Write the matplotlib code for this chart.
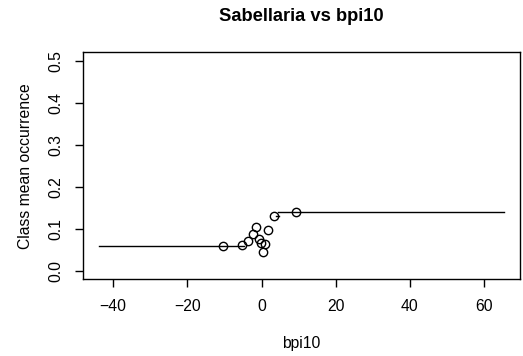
import matplotlib
matplotlib.use("Agg")
import matplotlib.pyplot as plt

plt.rcParams['font.family'] = ['Liberation Sans', 'DejaVu Sans']

# class means (points)
bpi_x = [-10.5, -5.2, -3.6, -2.4, -1.4, -0.7, -0.2, 0.9, 0.3, 1.7, 3.3, 9.3]
occ_y = [0.059, 0.061, 0.071, 0.089, 0.104, 0.076, 0.067, 0.064, 0.044, 0.097, 0.131, 0.141]

# fitted line pieces
left_x = [-43.8, -4.6]
left_y = [0.059, 0.059]
right_x = [4.4, 65.2]
right_y = [0.141, 0.141]
dash_x = [3.9, 4.6]
dash_y = [0.131, 0.131]

fig = plt.figure(figsize=(5.23, 3.56), dpi=100)
ax = fig.add_axes([0.158, 0.2154, 0.836, 0.6376])

ax.plot(left_x, left_y, color='black', lw=1.0)
ax.plot(right_x, right_y, color='black', lw=1.0)
ax.plot(dash_x, dash_y, color='black', lw=1.0)
ax.plot(bpi_x, occ_y, 'o', mfc='none', mec='black', ms=6, mew=1.0, ls='none')

ax.set_xlim(-48.2, 69.6)
ax.set_ylim(-0.02, 0.52)
ax.set_xticks([-40, -20, 0, 20, 40, 60])
ax.set_xticklabels(['\u221240', '\u221220', '0', '20', '40', '60'])
ax.set_yticks([0.0, 0.1, 0.2, 0.3, 0.4, 0.5])
ax.set_yticklabels(['0.0', '0.1', '0.2', '0.3', '0.4', '0.5'], rotation=90, va='center')

ax.tick_params(axis='both', length=6, width=1.0, labelsize=11.3, pad=8)
for s in ax.spines.values():
    s.set_linewidth(1.0)

ax.set_xlabel('bpi10', fontsize=11.3, labelpad=16)
ax.set_ylabel('Class mean occurrence', fontsize=11.3, labelpad=11)
fig.text(0.576, 0.953, 'Sabellaria vs bpi10', fontsize=13.2, fontweight='bold',
         ha='center', va='center')

fig.savefig('out.png', dpi=100)
